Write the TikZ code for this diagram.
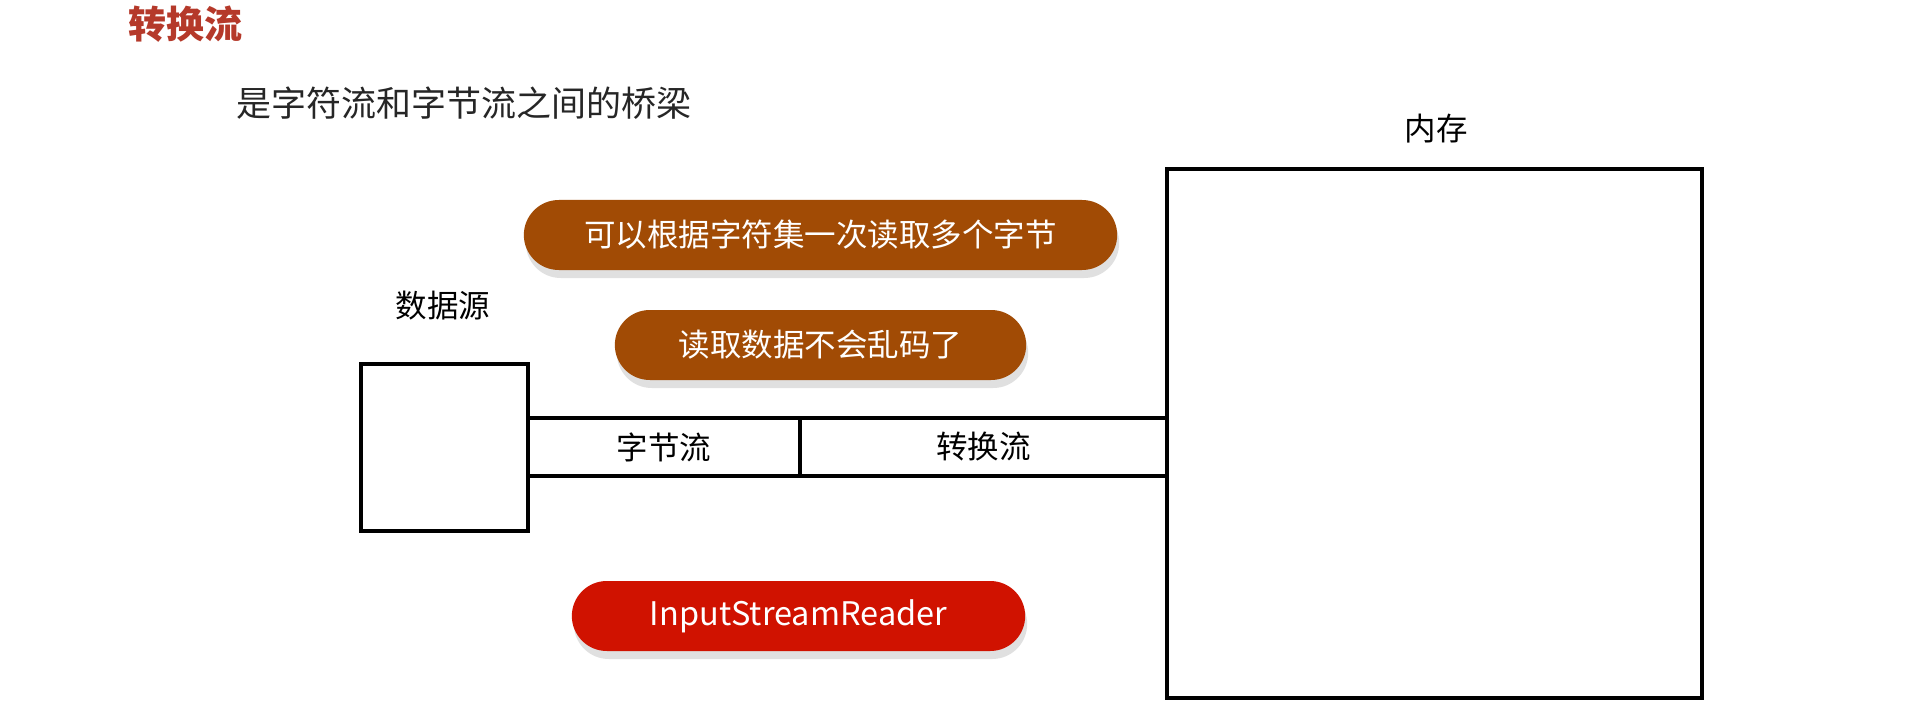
\documentclass[tikz,border=0pt]{standalone}
\usepackage{fontspec}
\setmainfont{Noto Sans CJK SC}
\usetikzlibrary{positioning,shapes.misc,shadows}
\definecolor{titlered}{HTML}{B5392A}
\definecolor{pillbrown}{HTML}{A14B05}
\definecolor{pillred}{HTML}{D01200}
\tikzset{
  pill/.style={rounded rectangle, fill=pillbrown, text=white, minimum height=70pt,
    font=\fontsize{31.5}{38}\selectfont,
    drop shadow={shadow xshift=2pt, shadow yshift=-8pt, fill=black!12, opacity=1}},
  box/.style={draw, line width=4.5pt, inner sep=0pt},
  lbl/.style={font=\fontsize{31.5}{38}\selectfont}
}

\begin{document}
\begin{tikzpicture}[x=1pt, y=-1pt]
			%%%%% START %%%%%
			
			\fill[white] (0, 0) rectangle (1920, 722);
			\useasboundingbox (0, 0) rectangle (1920, 722);
			
			\node[font=\fontsize{38}{44}\selectfont\bfseries, text=titlered] (title) at (185, 24) {转换流};
			\node[font=\fontsize{35}{42}\selectfont, text=black!85] (sub) at (464, 103) {是字符流和字节流之间的桥梁};
			
			\node[box, minimum width=535pt, minimum height=529pt] (mem) at (1434.5, 433.5) {};
			\node[lbl] (memlbl) at (1436, 129) {内存};
			
			\node[box, minimum width=167pt, minimum height=167pt] (src) at (444.5, 447.5) {};
			\node[lbl] (srclbl) at (443, 306) {数据源};
			
			\node[box, minimum width=272pt, minimum height=58pt, lbl] (bytes) at (664, 447) {字节流};
			\node[box, minimum width=367pt, minimum height=58pt, lbl] (conv) at (983.5, 447) {转换流};
			
			\node[pill, minimum width=600pt] (charset) at (820.5, 235) {可以根据字符集一次读取多个字节};
			\node[pill, minimum width=418pt] (nogarble) at (820.5, 345) {读取数据不会乱码了};
			\node[pill, fill=pillred, minimum width=460pt, font=\fontsize{32.5}{38}\selectfont] (isr) at (798.5, 616) {InputStreamReader};
			
			%%%%% END %%%%%
\end{tikzpicture}
\end{document}
